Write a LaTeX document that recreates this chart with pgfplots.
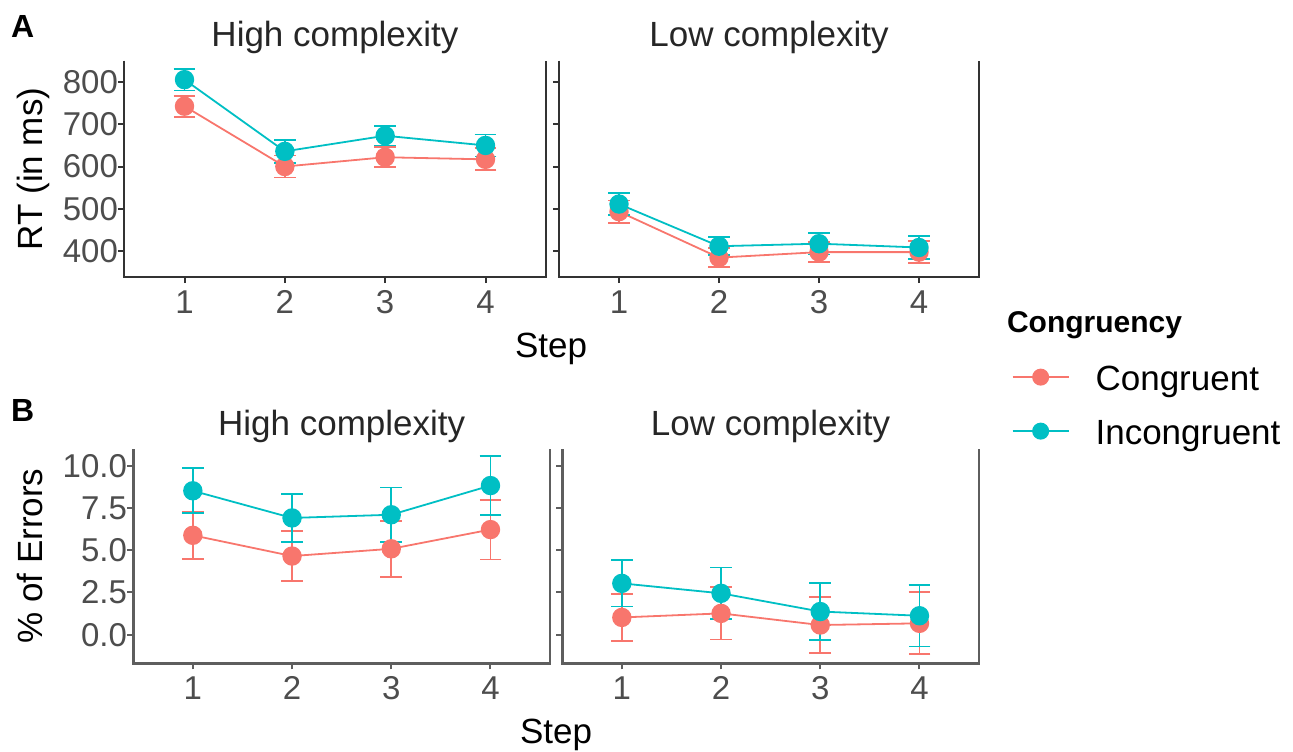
\documentclass[border=0pt]{standalone}
\usepackage{pgfplots}
\pgfplotsset{compat=1.18}
\usepackage{fontspec}
\setmainfont{Liberation Sans}
\definecolor{cred}{HTML}{F8766D}
\definecolor{ccyan}{HTML}{00BFC4}
\definecolor{tickgray}{HTML}{4D4D4D}
\definecolor{frameA}{HTML}{333333}
\definecolor{frameB}{HTML}{5E5E5E}

\pgfplotstableread{
x y e
1 743 25
2 600 26
3 622 24
4 617 26
}\tlcong
\pgfplotstableread{
x y e
1 806 25.5
2 636 27
3 673 23
4 650 26
}\tlinc
\pgfplotstableread{
x y e
1 493 26.5
2 384 22.5
3 397 23.5
4 397 26.5
}\trcong
\pgfplotstableread{
x y e
1 511 26.5
2 411 21.5
3 417 25.5
4 408 26.5
}\trinc
\pgfplotstableread{
x y e
1 5.89 1.40
2 4.66 1.50
3 5.09 1.67
4 6.23 1.77
}\blcong
\pgfplotstableread{
x y e
1 8.53 1.33
2 6.92 1.43
3 7.11 1.62
4 8.84 1.75
}\blinc
\pgfplotstableread{
x y e
1 1.02 1.375
2 1.26 1.545
3 0.57 1.67
4 0.67 1.835
}\brcong
\pgfplotstableread{
x y e
1 3.04 1.375
2 2.45 1.535
3 1.37 1.695
4 1.12 1.82
}\brinc

\pgfplotsset{
  panel/.style={
    scale only axis,
    xmin=0.4, xmax=4.6,
    xtick={1,2,3,4},
    axis line style={draw=none},
    tick align=outside,
    xtick pos=bottom, ytick pos=left,
    major tick length=3pt,
    tick style={line width=1pt, color=#1},
    /pgf/number format/assume math mode=true,
    tick label style={font=\fontsize{16.5}{18}\selectfont, text=tickgray},
    yticklabel style={anchor=east, inner sep=0pt},
    xticklabel style={anchor=north, inner sep=0pt, yshift=-3.5pt},
    clip=false,
  },
  cong/.style={color=cred, line width=0.9pt, mark=*, mark size=4.4pt,
    mark options={solid, fill=cred, draw=cred},
    error bars/.cd, y dir=both, y explicit,
    error bar style={line width=0.9pt, cred},
    error mark options={rotate=90, line width=0.9pt, mark size=5.4pt, cred}},
  incong/.style={color=ccyan, line width=0.9pt, mark=*, mark size=4.4pt,
    mark options={solid, fill=ccyan, draw=ccyan},
    error bars/.cd, y dir=both, y explicit,
    error bar style={line width=0.9pt, ccyan},
    error mark options={rotate=90, line width=0.9pt, mark size=5.4pt, ccyan}},
}

\begin{document}
\begin{tikzpicture}
\useasboundingbox (0,0) rectangle (646.5pt,375.5pt);

% ---------- A: top left
\begin{axis}[panel=frameA, at={(62.15pt,237pt)}, anchor=south west,
  width=210.7pt, height=108.15pt, ymin=338, ymax=851, ytick={400,500,600,700,800}]
\addplot[cong] table[x=x,y=y,y error=e] {\tlcong};
\addplot[incong] table[x=x,y=y,y error=e] {\tlinc};
\draw[frameA, line width=1pt] (rel axis cs:0,1) -- (rel axis cs:0,0) -- (rel axis cs:1,0) -- (rel axis cs:1,1);
\end{axis}

% ---------- A: top right
\begin{axis}[panel=frameA, at={(279.5pt,237pt)}, anchor=south west,
  width=210pt, height=108.15pt, ymin=338, ymax=851, ytick={400,500,600,700,800},
  yticklabels={},
  legend style={draw=none, fill=none, at={(axis description cs:1.078,-0.412)}, anchor=north west,
    inner sep=0pt, outer sep=0pt, row sep=12pt,
    font=\fontsize{17.5}{20}\selectfont,
    nodes={inner sep=0pt, text height=12pt, text depth=3pt},
    /tikz/every odd column/.append style={column sep=13pt}},
  legend cell align=left,
  legend image code/.code={\draw[mark repeat=2, mark phase=2, mark size=3.8pt, #1] plot coordinates {(0pt,2pt) (14pt,2pt) (28pt,2pt)};},
]
\addplot[cong] table[x=x,y=y,y error=e] {\trcong};
\addlegendentry{Congruent}
\addplot[incong] table[x=x,y=y,y error=e] {\trinc};
\addlegendentry{Incongruent}
\draw[frameA, line width=1pt] (rel axis cs:0,1) -- (rel axis cs:0,0) -- (rel axis cs:1,0) -- (rel axis cs:1,1);
\end{axis}

% ---------- B: bottom left
\begin{axis}[panel=frameB, at={(66.65pt,43.85pt)}, anchor=south west,
  width=208.35pt, height=107pt, ymin=-1.70, ymax=10.99, ytick={0,2.5,5,7.5,10},
  yticklabel style={/pgf/number format/.cd, fixed, fixed zerofill, precision=1}]
\addplot[cong] table[x=x,y=y,y error=e] {\blcong};
\addplot[incong] table[x=x,y=y,y error=e] {\blinc};
\draw[frameB, line width=1.2pt] (rel axis cs:0,1) -- (rel axis cs:0,0) -- (rel axis cs:1,0) -- (rel axis cs:1,1);
\end{axis}

% ---------- B: bottom right
\begin{axis}[panel=frameB, at={(281.15pt,43.85pt)}, anchor=south west,
  width=208.35pt, height=107pt, ymin=-1.70, ymax=10.99, ytick={0,2.5,5,7.5,10},
  yticklabels={}]
\addplot[cong] table[x=x,y=y,y error=e] {\brcong};
\addplot[incong] table[x=x,y=y,y error=e] {\brinc};
\draw[frameB, line width=1.2pt] (rel axis cs:0,1) -- (rel axis cs:0,0) -- (rel axis cs:1,0) -- (rel axis cs:1,1);
\end{axis}

% ---------- texts
\begin{scope}[every node/.style={inner sep=0pt, outer sep=0pt}]
\node[anchor=base west, font=\bfseries\fontsize{16}{18}\selectfont] at (5.5pt,356.5pt) {A};
\node[anchor=base west, font=\bfseries\fontsize{16}{18}\selectfont] at (5.5pt,165pt) {B};
\node[anchor=base, font=\fontsize{17.5}{20}\selectfont, text=black!85] at (167.5pt,352.15pt) {High complexity};
\node[anchor=base, font=\fontsize{17.5}{20}\selectfont, text=black!85] at (384.5pt,352.15pt) {Low complexity};
\node[anchor=base, font=\fontsize{17.5}{20}\selectfont, text=black!85] at (170.85pt,158pt) {High complexity};
\node[anchor=base, font=\fontsize{17.5}{20}\selectfont, text=black!85] at (385.3pt,158pt) {Low complexity};
\node[anchor=base, font=\fontsize{17.5}{20}\selectfont] at (275.5pt,197pt) {Step};
\node[anchor=base, font=\fontsize{17.5}{20}\selectfont] at (278pt,4pt) {Step};
\node[anchor=base, rotate=90, font=\fontsize{17.5}{20}\selectfont] at (21pt,291pt) {RT (in ms)};
\node[anchor=base, rotate=90, font=\fontsize{17.5}{20}\selectfont] at (21pt,97.5pt) {\% of Errors};
\node[anchor=base west, font=\bfseries\fontsize{15}{18}\selectfont] at (503.5pt,209.5pt) {Congruency};
\end{scope}
\end{tikzpicture}
\end{document}
